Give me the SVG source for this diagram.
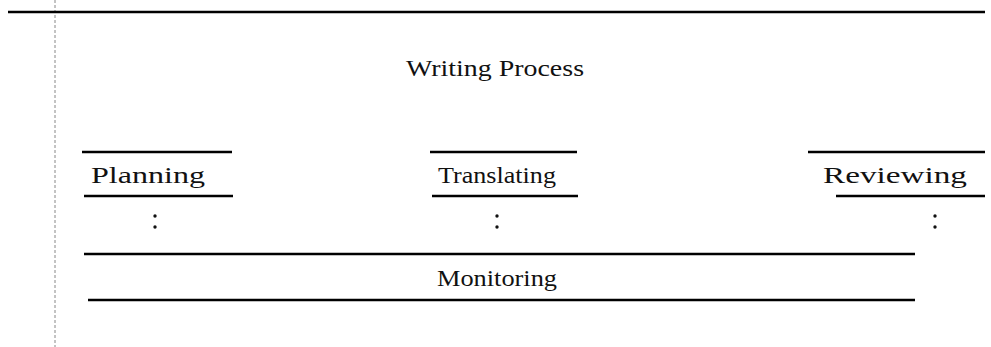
<svg xmlns="http://www.w3.org/2000/svg" width="991" height="347" viewBox="0 0 991 347">
<style>
.rule{stroke:#000;stroke-width:2.4;fill:none}
.guide{stroke:#888;stroke-width:1;stroke-dasharray:3 2;fill:none}
.lbl{font-family:"Liberation Serif","Times New Roman",serif;font-size:23px;fill:#111;text-anchor:middle}
.dot{fill:#111}
</style>
<rect width="991" height="347" fill="#fff"/>
<line class="guide" x1="55" y1="0" x2="55" y2="347"/>
<line class="rule" x1="8" y1="12" x2="985" y2="12"/>
<g id="title">
<text class="lbl" x="495" y="76" textLength="178" lengthAdjust="spacingAndGlyphs">Writing Process</text>
</g>
<g id="planning">
<line class="rule" x1="82" y1="152" x2="232" y2="152"/>
<text class="lbl" x="148" y="183" textLength="114" lengthAdjust="spacingAndGlyphs">Planning</text>
<line class="rule" x1="84" y1="196" x2="233" y2="196"/>
<circle class="dot" cx="155" cy="216" r="1.7"/>
<circle class="dot" cx="155" cy="227" r="1.7"/>
</g>
<g id="translating">
<line class="rule" x1="430" y1="152" x2="577" y2="152"/>
<text class="lbl" x="497" y="183" textLength="118" lengthAdjust="spacingAndGlyphs">Translating</text>
<line class="rule" x1="432" y1="196" x2="578" y2="196"/>
<circle class="dot" cx="497" cy="216" r="1.7"/>
<circle class="dot" cx="497" cy="227" r="1.7"/>
</g>
<g id="reviewing">
<line class="rule" x1="808" y1="152" x2="985" y2="152"/>
<text class="lbl" x="895" y="183" textLength="144" lengthAdjust="spacingAndGlyphs">Reviewing</text>
<line class="rule" x1="836" y1="196" x2="985" y2="196"/>
<circle class="dot" cx="935" cy="216" r="1.7"/>
<circle class="dot" cx="935" cy="227" r="1.7"/>
</g>
<g id="monitoring">
<line class="rule" x1="84" y1="254" x2="915" y2="254"/>
<text class="lbl" x="497" y="286" textLength="120" lengthAdjust="spacingAndGlyphs">Monitoring</text>
<line class="rule" x1="88" y1="300" x2="915" y2="300"/>
</g>
<g id="connectors"></g>
</svg>
